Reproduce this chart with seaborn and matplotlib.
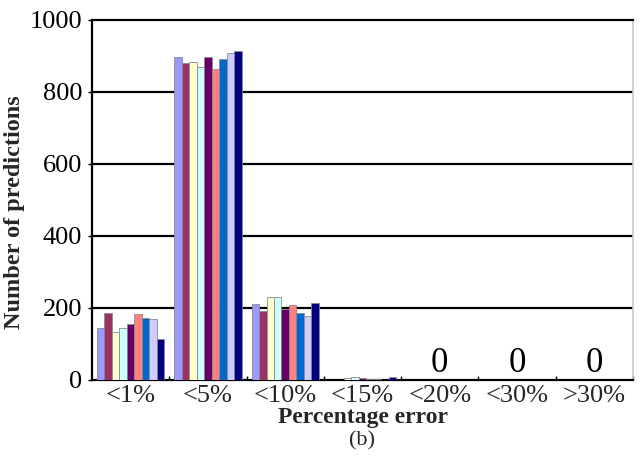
import numpy as np
import pandas as pd
import matplotlib
matplotlib.use("Agg")
import matplotlib.pyplot as plt
import seaborn as sns

categories = ["<1%", "<5%", "<10%", "<15%", "<20%", "<30%", ">30%"]
series_names = ["Series 1", "Series 2", "Series 3", "Series 4", "Series 5",
                "Series 6", "Series 7", "Series 8", "Series 9"]
# values per series across the categories
s1 = [144, 898, 210, 0, 0, 0, 0]
s2 = [184, 880, 190, 0, 0, 0, 0]
s3 = [132, 883, 230, 5, 0, 0, 0]
s4 = [144, 868, 230, 8, 0, 0, 0]
s5 = [155, 898, 196, 3, 0, 0, 0]
s6 = [182, 863, 206, 1, 0, 0, 0]
s7 = [171, 891, 185, 1, 0, 0, 0]
s8 = [168, 909, 177, 0, 0, 0, 0]
s9 = [113, 915, 214, 7, 0, 0, 0]
series_values = [s1, s2, s3, s4, s5, s6, s7, s8, s9]
colors = ["#9999FF", "#993366", "#FFFFCC", "#CCFFFF", "#660066",
          "#FF8080", "#0066CC", "#CCCCFF", "#000080"]
zero_labels = ["<20%", "<30%", ">30%"]

rows = []
for name, vals in zip(series_names, series_values):
    for c, v in zip(categories, vals):
        rows.append({"cat": c, "series": name, "value": v})
df = pd.DataFrame(rows)

sns.set_theme(style="white")
plt.rcParams["font.family"] = ["Liberation Serif", "DejaVu Serif"]

fig = plt.figure(figsize=(6.44, 4.58), dpi=100)
ax = fig.add_axes([92/644, 78.5/458, (633-92)/644, (379.5-20)/458])

sns.barplot(data=df, x="cat", y="value", hue="series", order=categories,
            hue_order=series_names, palette=colors, width=0.87,
            edgecolor="#8a8a8a", linewidth=0.6, saturation=1, ax=ax,
            legend=False, zorder=3)

ax.set_ylim(0, 1000)
ax.set_xlim(-0.5, 6.5)
ax.set_yticks([0, 200, 400, 600, 800, 1000])
ax.set_yticklabels(["0", "200", "400", "600", "800", "1000"])
for yv in [200, 400, 600, 800]:
    ax.axhline(yv, color="black", lw=1.6, zorder=1)

for sp in ["left", "bottom", "top"]:
    ax.spines[sp].set_color("black")
    ax.spines[sp].set_linewidth(1.6)
ax.spines["right"].set_color("#c8c8c8")
ax.spines["right"].set_linewidth(1.2)

ax.tick_params(axis="y", direction="out", length=3, width=1, left=True,
               labelsize=19, pad=4, colors="black")
ax.tick_params(axis="x", which="major", length=0, labelsize=19, pad=4)
ax.set_xticks(np.arange(0.5, 7.0, 1.0), minor=True)
ax.tick_params(axis="x", which="minor", direction="in", length=3, width=1,
               bottom=True, color="black")

for lab in zero_labels:
    i = categories.index(lab)
    ax.text(i, 45, "0", ha="center", va="center", fontsize=25, color="black")

ax.set_xlabel("Percentage error", fontsize=17, fontweight="bold")
ax.xaxis.set_label_coords(0.5, -0.076)
ax.xaxis.label.set_va("top")
ax.set_ylabel("Number of predictions", fontsize=17.5, fontweight="bold")
ax.yaxis.set_label_coords(-0.143, 0.466)
ax.yaxis.label.set_va("center")

fig.text(362/644, 1 - 441/458, "(b)", ha="center", va="center", fontsize=16)

fig.savefig("out.png", dpi=100)
